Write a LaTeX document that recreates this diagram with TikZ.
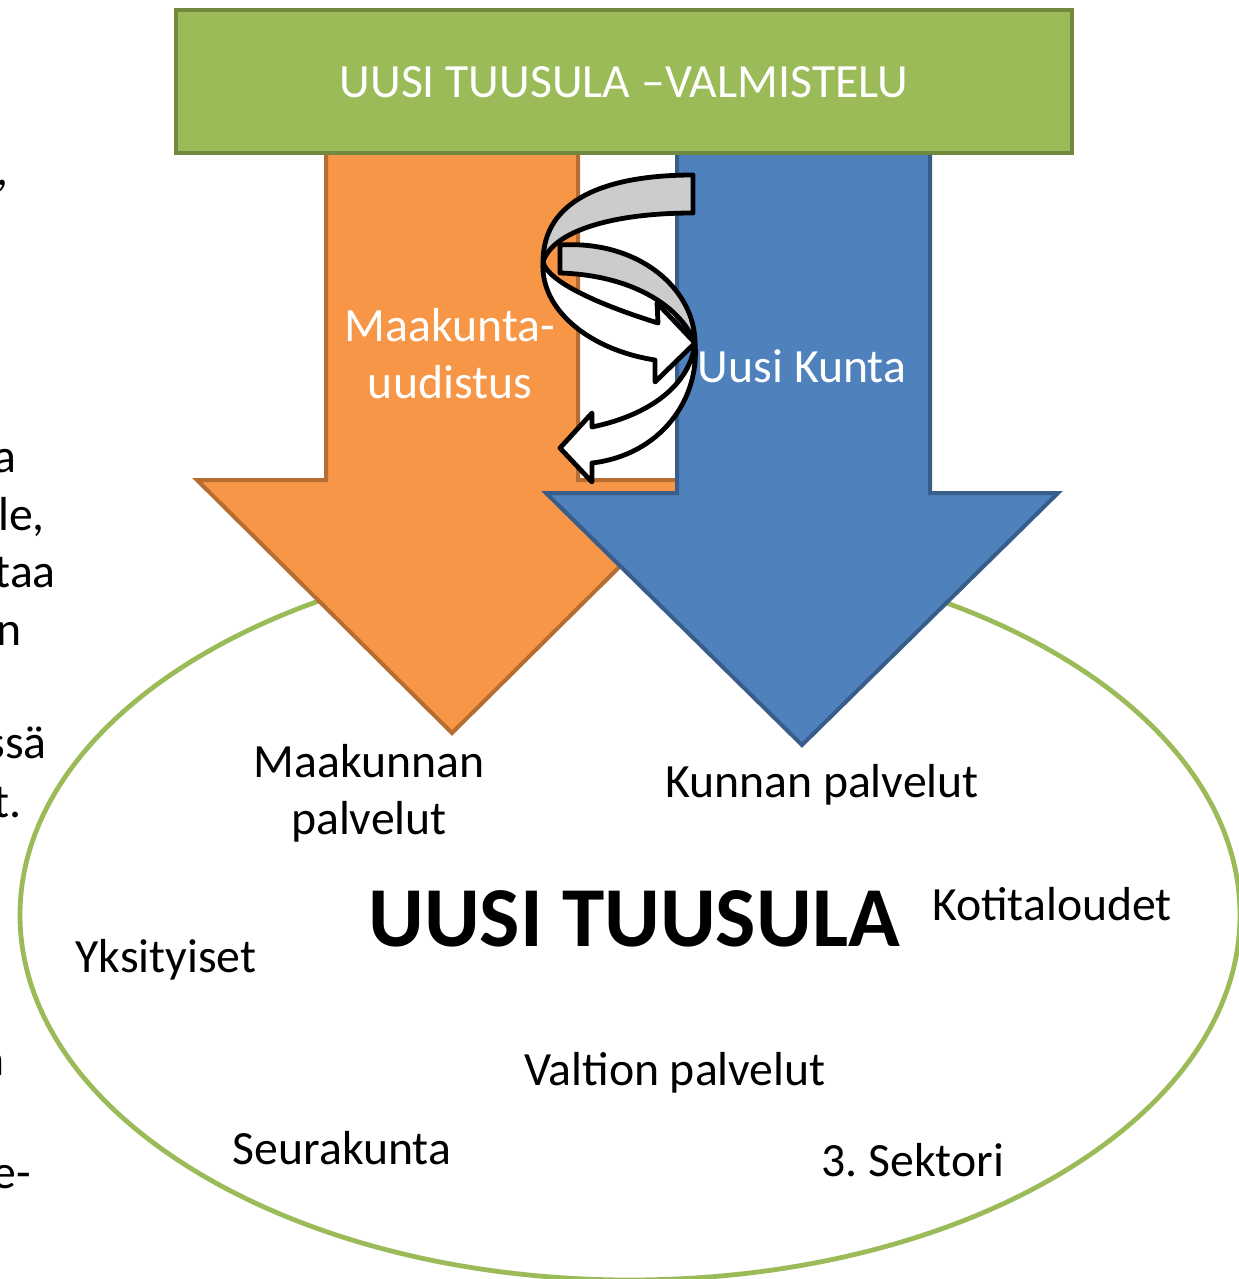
\documentclass[tikz,border=0pt]{standalone}
\usepackage{fontspec}
\setmainfont{Carlito}
\frenchspacing
\definecolor{valmGreen}{RGB}{155,187,89}
\definecolor{valmGreenDark}{RGB}{113,137,63}
\definecolor{maakOrange}{RGB}{247,150,70}
\definecolor{maakOrangeDark}{RGB}{182,109,49}
\definecolor{kuntaBlue}{RGB}{79,129,189}
\definecolor{kuntaBlueDark}{RGB}{56,93,138}
\definecolor{twistGray}{RGB}{204,204,204}
\begin{document}
\begin{tikzpicture}[x=0.75pt,y=0.75pt,yscale=-1,xscale=1,
	txt/.style={inner sep=0pt, font=\fontsize{35.8}{42.75}\selectfont},
	whitetxt/.style={txt, text=white},
	twist/.style={draw=black, line width=3.6pt, line join=round},
	bigarrow/.style={line width=3pt, line join=miter}]
	\useasboundingbox (0,0) rectangle (1239,1279);
	
	%Shape: Ellipse
	\draw [color=valmGreen, line width=3.6pt] (630,915) ellipse [x radius=610, y radius=365];
	
	%Shape: Down Arrow (maakunta)
	\draw [bigarrow, draw=maakOrangeDark, fill=maakOrange] (326,150) -- (578,150) -- (578,480) -- (707,480) -- (452,733) -- (197,480) -- (326,480) -- cycle;
	%Shape: Down Arrow (kunta)
	\draw [bigarrow, draw=kuntaBlueDark, fill=kuntaBlue] (677,150) -- (930,150) -- (930,493) -- (1058,493) -- (802,745) -- (546,493) -- (677,493) -- cycle;
	
	%Shape: Rectangle
	\draw [draw=valmGreenDark, fill=valmGreen, line width=3pt] (176,10) rectangle (1072,153);
	\node [whitetxt, anchor=base, font=\fontsize{35.8}{42}\selectfont] (valmistelu) at (624,97) {UUSI TUUSULA –VALMISTELU};
	
	%Shape: Curved Arrows (back sides)
	\draw [twist, fill=twistGray] (560,245) .. controls (640,240) and (695,290) .. (695,343) .. controls (680,305) and (630,275) .. (560,273) -- cycle;
	\draw [twist, fill=twistGray] (693,175) .. controls (605,175) and (543,200) .. (543,262) .. controls (552,232) and (610,213) .. (693,213) -- cycle;
	%Shape: Curved Arrows (front sides)
	\draw [twist, fill=white] (543,262) .. controls (548,282) and (600,305) .. (658,323) -- (657,303) -- (695,343) -- (655,382) -- (655,360) .. controls (590,350) and (540,310) .. (543,262) -- cycle;
	\draw [twist, fill=white] (695,343) .. controls (700,400) and (660,455) .. (592,463) -- (592,482) -- (560,448) -- (592,413) -- (592,427) .. controls (650,415) and (690,385) .. (695,343) -- cycle;
	
	% Text Node
	\node [whitetxt, align=center] (maakunta) at (450,354) {Maakunta-\\uudistus};
	% Text Node
	\node [whitetxt, anchor=base] (uusikunta) at (802,382) {Uusi Kunta};
	% Text Node
	\node [txt, align=center] (maakpalv) at (369,793) {Maakunnan\\palvelut};
	% Text Node
	\node [txt, anchor=base] (kuntapalv) at (822,797) {Kunnan palvelut};
	% Text Node
	\node [inner sep=0pt, anchor=base, font=\fontsize{64}{70}\selectfont\bfseries] (tuusula) at (634,946) {UUSI TUUSULA};
	% Text Node
	\node [txt, anchor=base] (koti) at (1052,920) {Kotitaloudet};
	% Text Node
	\node [txt, anchor=base] (yksit) at (166,972) {Yksityiset};
	% Text Node
	\node [txt, anchor=base] (valtio) at (675,1085) {Valtion palvelut};
	% Text Node
	\node [txt, anchor=base] (seura) at (342,1164) {Seurakunta};
	% Text Node
	\node [txt, anchor=base] (sektori) at (913,1176) {3. Sektori};
	
	% Text Nodes (cut-off column at left)
	\node [txt, anchor=base east] (frag1) at (9,185) {,};
	\node [txt, anchor=base east] (frag2) at (17,472) {a};
	\node [txt, anchor=base east] (frag3) at (45,530) {le,};
	\node [txt, anchor=base east] (frag4) at (56,587) {taa};
	\node [txt, anchor=base east] (frag5) at (22,645) {n};
	\node [txt, anchor=base east] (frag6) at (47,758) {ssä};
	\node [txt, anchor=base east] (frag7) at (22,817) {t.};
	\node [txt, anchor=base east] (frag8) at (5,1075) {n};
	\node [txt, anchor=base east] (frag9) at (31,1188) {e-};
	
\end{tikzpicture}
\end{document}
